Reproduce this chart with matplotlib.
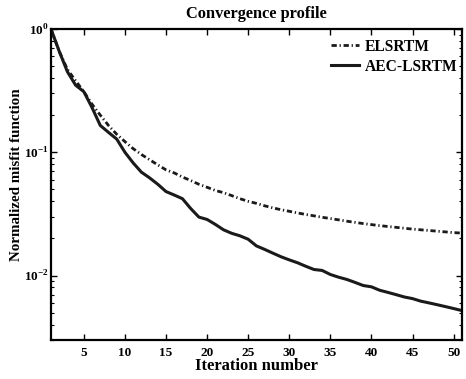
import numpy as np
import matplotlib
matplotlib.use("Agg")
import matplotlib.pyplot as plt
from matplotlib.ticker import FixedLocator, FixedFormatter, LogLocator, NullFormatter

plt.rcParams['font.family'] = ['Liberation Serif', 'DejaVu Serif']
plt.rcParams['font.weight'] = 'bold'
plt.rcParams['mathtext.fontset'] = 'custom'
plt.rcParams['mathtext.rm'] = 'Liberation Serif:bold'
plt.rcParams['mathtext.bf'] = 'Liberation Serif:bold'
plt.rcParams['lines.scale_dashes'] = False

iterations = np.arange(1, 52)

elsrtm = [1.0, 0.66, 0.47, 0.38, 0.31, 0.245, 0.2, 0.165, 0.14, 0.122,
          0.107, 0.096, 0.087, 0.079, 0.072, 0.068, 0.063, 0.059, 0.055, 0.052,
          0.049, 0.047, 0.0445, 0.042, 0.040, 0.0385, 0.0368, 0.0354, 0.0342, 0.0332,
          0.0322, 0.0313, 0.0305, 0.0297, 0.029, 0.0283, 0.0276, 0.027, 0.0264, 0.0259,
          0.0254, 0.025, 0.0246, 0.0242, 0.0238, 0.0235, 0.0232, 0.0229, 0.0226, 0.0223,
          0.0221]

aec_lsrtm = [1.0, 0.66, 0.45, 0.35, 0.31, 0.23, 0.165, 0.145, 0.128, 0.1,
             0.082, 0.069, 0.062, 0.055, 0.048, 0.045, 0.042, 0.035, 0.0298, 0.0285,
             0.026, 0.0235, 0.022, 0.021, 0.0197, 0.0174, 0.0163, 0.0152, 0.0142, 0.0134,
             0.0127, 0.0119, 0.0112, 0.011, 0.0102, 0.0097, 0.0093, 0.0088, 0.0083, 0.0081,
             0.0076, 0.0073, 0.007, 0.0067, 0.0065, 0.0062, 0.006, 0.0058, 0.0056, 0.0054,
             0.0052]

xticks = [5, 10, 15, 20, 25, 30, 35, 40, 45, 50]
yticks = [1e-2, 1e-1, 1e0]
ytick_labels = [r'$10^{-2}$', r'$10^{-1}$', r'$10^{0}$']

fig = plt.figure(figsize=(4.66, 3.79), dpi=100)
ax = fig.add_axes([0.1094, 0.1029, 0.8816, 0.8206])

ax.semilogy(iterations, elsrtm, color='#1a1a1a', lw=2.0,
            dashes=(3.8, 2.0, 0.9, 2.0), label='ELSRTM')
ax.semilogy(iterations, aec_lsrtm, color='#1a1a1a', lw=2.2, label='AEC-LSRTM')

ax.set_xlim(1, 51)
ax.set_ylim(0.003, 1)

ax.xaxis.set_major_locator(FixedLocator(xticks))
ax.yaxis.set_major_locator(FixedLocator(yticks))
ax.yaxis.set_major_formatter(FixedFormatter(ytick_labels))
ax.yaxis.set_minor_locator(LogLocator(base=10, subs=np.arange(2, 10)))
ax.yaxis.set_minor_formatter(NullFormatter())

ax.tick_params(which='both', direction='in', top=True, right=True)
ax.tick_params(axis='x', labelsize=9.5, pad=5)
ax.tick_params(axis='y', labelsize=9.5, pad=1.5)
ax.tick_params(which='major', length=4, width=1)
ax.tick_params(which='minor', length=2.5, width=0.8)
for lbl in ax.get_xticklabels():
    lbl.set_fontweight('bold')

for sp in ax.spines.values():
    sp.set_linewidth(1.6)

ax.set_title('Convergence profile', fontsize=11.8, fontweight='bold', pad=8)
ax.set_xlabel('Iteration number', fontsize=12, fontweight='bold', labelpad=-1)
ax.set_ylabel('Normalized misfit function', fontsize=10.8, fontweight='bold')
ax.yaxis.set_label_coords(-0.068, 0.53)

ax.legend(loc='upper right', bbox_to_anchor=(1.0, 0.984), frameon=False,
          handlelength=1.8, handletextpad=0.35, borderaxespad=0.0, borderpad=0.3,
          labelspacing=0.25, prop={'weight': 'bold', 'size': 11.2})

fig.savefig('out.png', dpi=100)
